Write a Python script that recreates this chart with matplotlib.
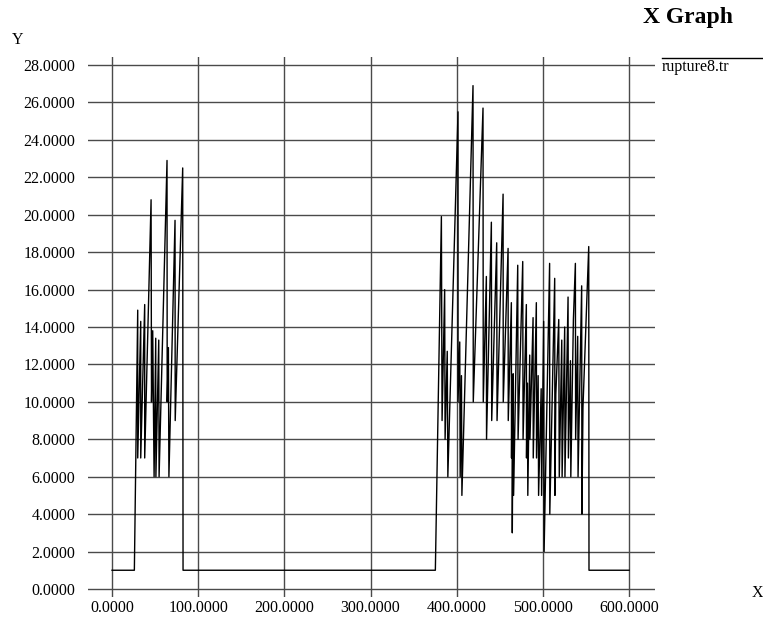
import numpy as np
import matplotlib.pyplot as plt

# rupture8.tr
xs = [0, 25.9, 29.8, 29.8, 33.3, 33.3, 37.9, 37.9, 45.3, 45.8, 47.2, 48.8,
      50.7, 50.9, 54.2, 54.6, 63.8, 64.0, 65.4, 66.0, 73.1, 73.3, 82.0, 82.4,
      375.2, 382.2, 383.0, 386.0, 386.5, 389.0, 389.7, 401.5, 401.5, 403.5,
      404.0, 405.5, 406.0, 418.9, 419.2, 430.5, 430.8, 434.4, 434.6, 440.2,
      440.6, 446.4, 446.8, 453.8, 454.0, 459.6, 459.8, 463.4, 463.6, 464.2,
      464.5, 465.5, 466.0, 470.8, 471.2, 476.6, 477.0, 480.8, 481.0, 482.0,
      482.5, 484.7, 485.0, 488.6, 488.8, 492.4, 492.6, 494.5, 495.0, 498.0,
      498.5, 500.9, 501.4, 507.8, 508.0, 513.7, 514.0, 515.0, 518.4, 519.0,
      521.9, 522.3, 525.3, 525.6, 529.2, 529.6, 532.0, 532.4, 535.4, 537.7,
      538.0, 540.4, 540.8, 545.0, 545.3, 546.5, 553.2, 553.5, 600.0]
ys = [1, 1, 14.9, 7, 14.3, 7, 15.2, 7, 20.8, 10, 13.8, 6,
      13.4, 6, 13.3, 6, 22.9, 10, 12.9, 6, 19.7, 9, 22.5, 1,
      1, 19.9, 9, 16, 8, 12.7, 6, 25.5, 10, 13.2,
      6, 11.4, 5, 26.9, 10, 25.7, 10, 16.7, 8, 19.6,
      9, 18.5, 9, 21.1, 10, 18.2, 9, 15.3, 7, 11.3,
      3, 11.5, 5, 17.3, 8, 17.5, 8, 15.2, 7, 11,
      5, 12.5, 8, 14.5, 7, 15.3, 7, 11.4, 5, 10.7,
      5, 14.3, 2, 17.4, 4, 16.6, 5, 10.4, 14.4, 6,
      13.3, 6, 14.0, 6, 15.6, 7, 12.2, 6, 14.4, 17.4,
      8, 13.5, 6, 16.2, 4, 9.7, 18.3, 1, 1]

x_ticks = [0, 100, 200, 300, 400, 500, 600]
y_ticks = list(range(0, 29, 2))

plt.rcParams['font.family'] = ['Liberation Serif', 'DejaVu Serif']

fig = plt.figure(figsize=(7.63, 6.19), dpi=100)
ax = fig.add_axes([88/763, 1-597/619, (655-88)/763, (597-57)/619])

ax.plot(xs, ys, color='black', lw=1.0, label='rupture8.tr')

ax.set_xlim(-27.9, 630.1)
ax.set_ylim(-0.43, 28.43)
ax.set_xticks(x_ticks)
ax.set_xticklabels(['%.4f' % v for v in x_ticks])
ax.set_yticks(y_ticks)
ax.set_yticklabels(['%.4f' % v for v in y_ticks])
ax.tick_params(length=0, labelsize=11.5)
ax.tick_params(axis='y', pad=9)
ax.tick_params(axis='x', pad=2)
ax.grid(True, color='#4a4a4a', lw=1.0)
ax.set_axisbelow(True)
for s in ax.spines.values():
    s.set_visible(False)

fig.text(18/763, 1-40/619, 'Y', fontsize=11.5, ha='center', va='center')
fig.text(757/763, 1-593/619, 'X', fontsize=11.5, ha='center', va='center')
fig.text(688/763, 1-18/619, 'X Graph', fontsize=17, fontweight='bold',
         ha='center', va='center')

# legend: line above the name
fig.add_artist(plt.Line2D([662/763, 1.0], [1-58/619, 1-58/619],
                          color='black', lw=1.0))
fig.text(662/763, 1-67/619, 'rupture8.tr', fontsize=11.5, ha='left', va='center')

fig.savefig('out.png', dpi=100)
